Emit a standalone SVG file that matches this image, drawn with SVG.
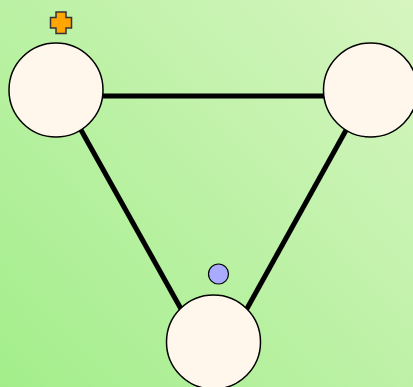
<svg xmlns="http://www.w3.org/2000/svg" width="413" height="387" viewBox="0 0 413 387">
  <defs>
    <linearGradient id="bg" x1="0" y1="387" x2="413" y2="0" gradientUnits="userSpaceOnUse">
      <stop offset="0" stop-color="#a3ee8b"/>
      <stop offset="1" stop-color="#d6f5c0"/>
    </linearGradient>
    <style>
      .edge { stroke: #000; stroke-width: 5; fill: none; }
      .node { fill: #fff7ec; stroke: #000; stroke-width: 1.5; }
      .dot { fill: #a8abff; stroke: #000; stroke-width: 1.2; }
      .plus { fill: #ffa500; stroke: #333; stroke-width: 1.5; stroke-linejoin: miter; }
    </style>
  </defs>
  <rect width="413" height="387" fill="url(#bg)"/>
  <g id="connectors">
    <line class="edge" x1="62" y1="96" x2="365" y2="96"/>
    <line class="edge" x1="62" y1="96" x2="214" y2="368"/>
    <line class="edge" x1="365" y1="96" x2="214" y2="368"/>
  </g>
  <g id="node-top-left">
    <circle class="node" cx="56" cy="90" r="47"/>
  </g>
  <g id="node-top-right">
    <circle class="node" cx="370.5" cy="90" r="47"/>
  </g>
  <g id="node-bottom">
    <circle class="node" cx="213.5" cy="342" r="47"/>
  </g>
  <g id="marker-plus">
    <path class="plus" d="M56 12h10v5.5h5.5v10.5h-5.5v5.5h-10v-5.5h-5.5v-10.5h5.5z"/>
  </g>
  <g id="marker-dot">
    <circle class="dot" cx="218.5" cy="274" r="10"/>
  </g>
</svg>
